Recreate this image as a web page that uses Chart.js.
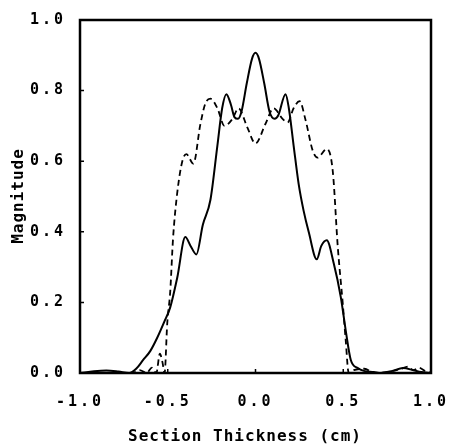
<!DOCTYPE html>
<html>
<head>
<meta charset="utf-8">
<script src="https://cdn.jsdelivr.net/npm/chart.js@4/dist/chart.umd.min.js"></script>
<style>
  html, body { margin: 0; padding: 0; background: #fff; }
  #wrap { width: 450px; height: 447px; }
</style>
</head>
<body>
<div id="wrap"><canvas id="sectionChart"></canvas></div>
<script>
// solid curve
const solidX = [-1.0, -0.92, -0.85, -0.78, -0.72, -0.68, -0.64, -0.6, -0.56, -0.52, -0.486, -0.446, -0.40, -0.37, -0.337,
    -0.30, -0.257, -0.217, -0.19, -0.166, -0.14, -0.12, -0.10, -0.08, -0.05, -0.02, 0.0,
    0.02, 0.05, 0.08, 0.109, 0.13, 0.171, 0.19, 0.217, 0.246, 0.274, 0.303, 0.349, 0.375, 0.406, 0.446, 0.486,
    0.514, 0.543, 0.583, 0.617, 0.674, 0.714, 0.78, 0.84, 0.9, 0.943, 1.0];
const solidY = [0.0, 0.005, 0.007, 0.004, 0.0, 0.012, 0.037, 0.062, 0.10, 0.145, 0.186, 0.27, 0.385, 0.36, 0.336,
    0.42, 0.49, 0.645, 0.75, 0.79, 0.76, 0.725, 0.72, 0.74, 0.82, 0.89, 0.907,
    0.89, 0.82, 0.74, 0.72, 0.73, 0.79, 0.75, 0.645, 0.535, 0.46, 0.40, 0.322, 0.36, 0.376, 0.31, 0.215,
    0.121, 0.037, 0.014, 0.006, 0.003, 0.0, 0.006, 0.014, 0.008, 0.003, 0.0];

// dashed curve
const dashedX = [-1.0, -0.8, -0.7, -0.66, -0.62, -0.59, -0.565, -0.545, -0.53, -0.518, -0.503, -0.486, -0.47, -0.446,
    -0.417, -0.394, -0.354, -0.314, -0.286, -0.257, -0.217, -0.177, -0.131, -0.097, -0.046, 0.0,
    0.057, 0.103, 0.154, 0.183, 0.217, 0.251, 0.286, 0.326, 0.354, 0.406, 0.44, 0.469, 0.497, 0.514, 0.531,
    0.56, 0.62, 0.68, 0.78, 0.83, 0.87, 0.9, 0.93, 0.97, 1.0];
const dashedY = [0.0, 0.0, 0.0, 0.008, 0.0, 0.015, 0.0, 0.055, 0.03, 0.0, 0.14, 0.23, 0.38, 0.51,
    0.60, 0.62, 0.593, 0.705, 0.763, 0.777, 0.75, 0.70, 0.72, 0.75, 0.695, 0.65,
    0.706, 0.75, 0.72, 0.71, 0.75, 0.77, 0.715, 0.63, 0.61, 0.635, 0.573, 0.356, 0.198, 0.093, 0.0,
    0.008, 0.012, 0.0, 0.005, 0.012, 0.018, 0.008, 0.015, 0.005, 0.0];

const xTicks = [-1.0, -0.5, 0.0, 0.5, 1.0];
const yTicks = [0.0, 0.2, 0.4, 0.6, 0.8, 1.0];

function toPoints(xs, ys) {
    return xs.map((x, i) => ({ x: x, y: ys[i] }));
}

const spacing = {
    id: "spacing",
    beforeDraw(chart) {
        chart.ctx.letterSpacing = "3px";
    }
};

// box frame, inward ticks and axis titles
const frame = {
    id: "frame",
    afterDraw(chart) {
        const ctx = chart.ctx;
        const a = chart.chartArea;
        const xs = chart.scales.x;
        const ys = chart.scales.y;
        ctx.save();
        ctx.strokeStyle = "#000";
        ctx.lineWidth = 2.5;
        ctx.strokeRect(a.left, a.top, a.right - a.left, a.bottom - a.top);
        ctx.lineWidth = 1.5;
        ctx.beginPath();
        xTicks.forEach(v => {
            const px = xs.getPixelForValue(v);
            ctx.moveTo(px, a.bottom);
            ctx.lineTo(px, a.bottom - 4);
        });
        yTicks.forEach(v => {
            const py = ys.getPixelForValue(v);
            ctx.moveTo(a.left, py);
            ctx.lineTo(a.left + 4, py);
        });
        ctx.stroke();

        ctx.fillStyle = "#000";
        ctx.font = "bold 16px 'DejaVu Sans Mono'";
        ctx.letterSpacing = "1px";
        ctx.textAlign = "center";
        ctx.textBaseline = "middle";
        ctx.fillText("Section Thickness (cm)", 245, 437);
        ctx.translate(19, 196);
        ctx.rotate(-Math.PI / 2);
        ctx.fillText("Magnitude", 0, 0);
        ctx.restore();
    }
};

const tickFont = { family: "'DejaVu Sans Mono'", size: 15, weight: "bold" };

new Chart(document.getElementById("sectionChart").getContext("2d"), {
    type: "line",
    data: {
        datasets: [{
            label: "solid",
            data: toPoints(solidX, solidY),
            borderColor: "#000",
            borderWidth: 2,
            pointRadius: 0,
            cubicInterpolationMode: "monotone"
        }, {
            label: "dashed",
            data: toPoints(dashedX, dashedY),
            borderColor: "#000",
            borderWidth: 1.8,
            borderDash: [6, 4],
            pointRadius: 0,
            cubicInterpolationMode: "monotone"
        }]
    },
    options: {
        responsive: true,
        maintainAspectRatio: false,
        animation: false,
        layout: { padding: { left: 0, right: 19, top: 20, bottom: 0 } },
        plugins: {
            legend: { display: false },
            tooltip: { enabled: false }
        },
        scales: {
            x: {
                type: "linear",
                min: -1,
                max: 1,
                afterBuildTicks: s => { s.ticks = xTicks.map(v => ({ value: v })); },
                afterFit: s => { s.height = 74; s.paddingLeft = 0; s.paddingRight = 0; },
                ticks: {
                    color: "#000",
                    font: tickFont,
                    padding: 20,
                    maxRotation: 0,
                    callback: v => v.toFixed(1)
                },
                grid: { display: false, drawTicks: false },
                border: { display: false }
            },
            y: {
                min: 0,
                max: 1,
                afterBuildTicks: s => { s.ticks = yTicks.map(v => ({ value: v })); },
                afterFit: s => { s.width = 80; s.paddingTop = 0; s.paddingBottom = 0; },
                ticks: {
                    color: "#000",
                    font: tickFont,
                    padding: 14,
                    callback: v => v.toFixed(1)
                },
                grid: { display: false, drawTicks: false },
                border: { display: false }
            }
        }
    },
    plugins: [spacing, frame]
});
</script>
</body>
</html>
